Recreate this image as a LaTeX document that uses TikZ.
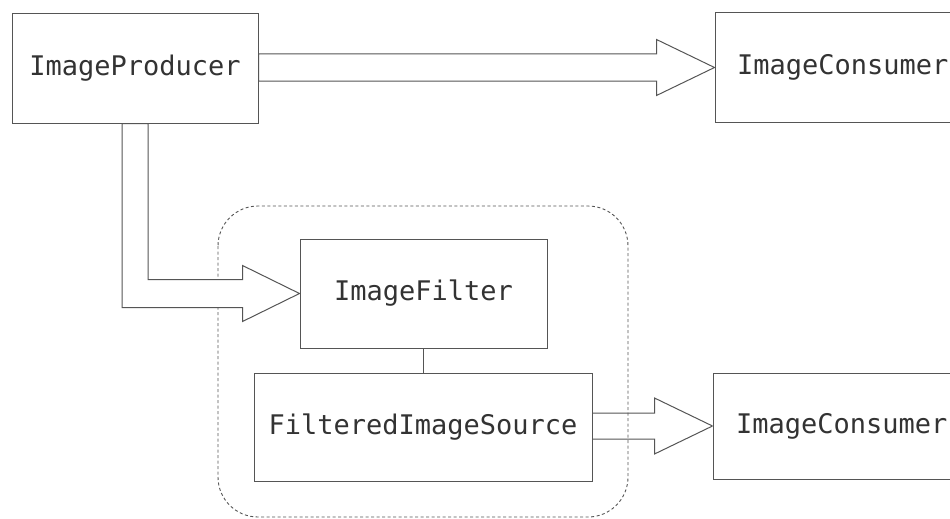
\documentclass[tikz,border=0pt]{standalone}
\usepackage{fontspec}
\setmonofont{DejaVu Sans Mono}
\usetikzlibrary{calc}
\definecolor{linec}{HTML}{555555}
\definecolor{textc}{HTML}{333333}
\tikzset{
  box/.style={draw=linec, line width=1pt, fill=white, inner sep=0pt, anchor=center,
    font=\ttfamily\fontsize{27}{30}\selectfont, text=textc},
  fat/.style={draw=linec, line width=1pt, line join=miter},
  group/.style={draw=linec, line width=0.9pt, dash pattern=on 3pt off 2.5pt, rounded corners=40pt}
}
\begin{document}
\begin{tikzpicture}[x=1pt,y=-1pt]
\useasboundingbox[fill=white] (0,0) rectangle (950,519);
\clip (0,0) rectangle (950,519);
% group outline
\draw[group] (218,206) rectangle (628,517);
% boxes
\node[box, minimum width=246pt, minimum height=109pt] (prod) at (135,68.5) {ImageProducer};
\node[box, minimum width=250pt, minimum height=109pt, align=left, text width=206pt] (cons1) at (840,67.5) {ImageConsumer};
\node[box, minimum width=247pt, minimum height=109pt] (filter) at (423.5,293.5) {ImageFilter};
\node[box, minimum width=338pt, minimum height=108pt] (fsrc) at (423,427) {FilteredImageSource};
\node[box, minimum width=250pt, minimum height=106pt, align=left, text width=204pt] (cons2) at (838,426) {ImageConsumer};
% link filter -- source
\draw[draw=linec, line width=1pt] (filter.south) -- (filter.south |- fsrc.north);
% top fat arrow
\draw[fat, fill=white] let \p1=(cons1.west), \p2=(prod.east) in
  (\p1) -- (\x1-58pt,\y1+28pt) -- (\x1-58pt,\y1+13.5pt) -- (\x2,\y1+13.5pt)
  -- (\x2,\y1-13.5pt) -- (\x1-58pt,\y1-13.5pt) -- (\x1-58pt,\y1-28pt) -- cycle;
% L-shaped fat arrow
\draw[fat, fill=white] let \p1=(filter.west), \p2=(prod.south) in
  (\p1) -- (\x1-57pt,\y1+28pt) -- (\x1-57pt,\y1+14pt) -- (\x2+13pt,\y1+14pt)
  -- (\x2+13pt,\y2) -- (\x2-13pt,\y2) -- (\x2-13pt,\y1-14pt)
  -- (\x1-57pt,\y1-14pt) -- (\x1-57pt,\y1-28pt) -- cycle;
% bottom fat arrow
\draw[fat] let \p1=(cons2.west), \p2=(fsrc.east) in
  (\p1) -- (\x1-58pt,\y1+28pt) -- (\x1-58pt,\y1+13pt) -- (\x2,\y1+13pt)
  (\x2,\y1-13pt) -- (\x1-58pt,\y1-13pt) -- (\x1-58pt,\y1-28pt) -- (\p1);
\end{tikzpicture}
\end{document}
